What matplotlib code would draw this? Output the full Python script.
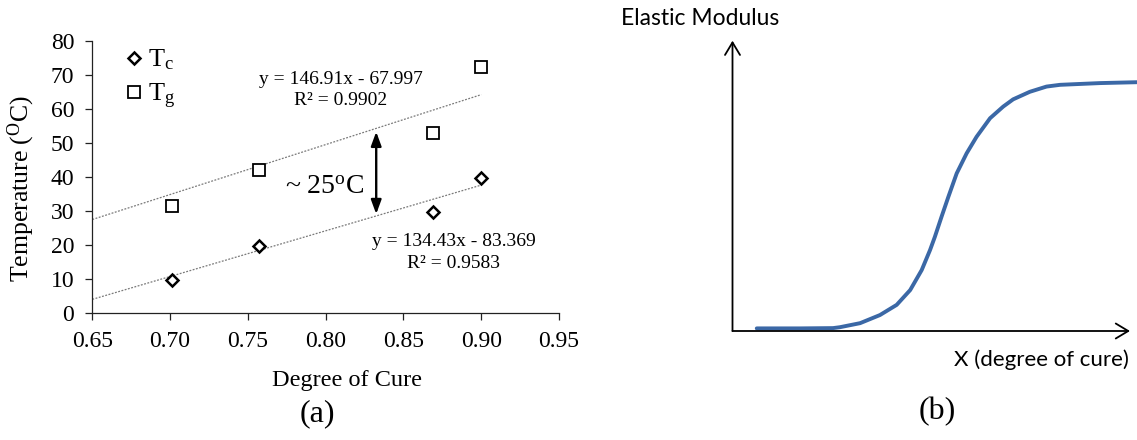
import numpy as np
import matplotlib
matplotlib.use("Agg")
import matplotlib.pyplot as plt

plt.rcParams["font.family"] = ["Liberation Serif", "DejaVu Serif"]
plt.rcParams["mathtext.fontset"] = "custom"
plt.rcParams["mathtext.rm"] = "Liberation Serif"
plt.rcParams["mathtext.it"] = "Liberation Serif:italic"

# (a) Tc / Tg 随固化度变化
cure = [0.701, 0.757, 0.869, 0.900]
tc = [9.7, 19.6, 29.6, 39.6]
tg = [31.5, 42.1, 52.9, 72.3]

# Excel 趋势线 (斜率, 截距)，画在 0.65 ~ 0.90 之间
fit_tg = (146.91, -67.997)
fit_tc = (134.43, -83.369)
fit_range = [0.65, 0.90]

x_ticks = [0.65, 0.70, 0.75, 0.80, 0.85, 0.90, 0.95]
y_ticks = [0, 10, 20, 30, 40, 50, 60, 70, 80]

# (b) 弹性模量示意曲线（从图上读取，单位归一化到坐标箭头长度）
cure_b = [0.061, 0.170, 0.253, 0.270, 0.321, 0.371, 0.413, 0.447, 0.476, 0.497,
          0.509, 0.526, 0.543, 0.564, 0.589, 0.614, 0.648, 0.681, 0.706, 0.748,
          0.790, 0.824, 0.874, 0.925, 1.017]
modulus_b = [0.009, 0.009, 0.010, 0.013, 0.027, 0.055, 0.090, 0.141, 0.210, 0.279,
             0.324, 0.394, 0.462, 0.543, 0.612, 0.669, 0.733, 0.773, 0.798, 0.824,
             0.842, 0.848, 0.851, 0.854, 0.857]

W, H = 1137, 440
fig = plt.figure(figsize=(W / 100, H / 100), dpi=100)

# ---------- panel (a) ----------
ax = fig.add_axes([92.3 / W, (H - 313) / H, (559 - 92.3) / W, (313 - 41) / H])
for s in ["top", "right"]:
    ax.spines[s].set_visible(False)
for s in ["left", "bottom"]:
    ax.spines[s].set_linewidth(0.9)
    ax.spines[s].set_color("#222222")

fx = np.array(fit_range)
ax.plot(fx, fit_tg[0] * fx + fit_tg[1], color="#7a7a7a", lw=0.9, ls=(0, (1.5, 1.2)))
ax.plot(fx, fit_tc[0] * fx + fit_tc[1], color="#7a7a7a", lw=0.9, ls=(0, (1.5, 1.2)))

ax.plot(cure, tc, ls="none", marker="D", ms=6.3, mfc="white", mec="black", mew=1.8,
        label=r"T$_{\mathrm{c}}$")
ax.plot(cure, tg, ls="none", marker="s", ms=8.3, mfc="white", mec="black", mew=1.3,
        label=r"T$_{\mathrm{g}}$")

ax.set_xlim(0.65, 0.95)
ax.set_ylim(0, 80)
ax.set_xticks(x_ticks)
ax.set_xticklabels([f"{v:.2f}" for v in x_ticks])
ax.set_yticks(y_ticks)
ax.tick_params(axis="both", direction="out", length=5, width=0.9, color="#222222",
               labelsize=17)
ax.tick_params(axis="x", pad=8)
ax.tick_params(axis="y", pad=8)

ax.legend(loc="upper left", bbox_to_anchor=(0.068, 0.975), frameon=False, fontsize=19,
          handlelength=0.75, handletextpad=0.15, labelspacing=0.35, borderpad=0,
          borderaxespad=0)

ax.text(0.8098, 68.6, "y = 146.91x - 67.997", fontsize=14, ha="center", va="center")
ax.text(0.8098, 62.6, "R² = 0.9902", fontsize=14, ha="center", va="center")
ax.text(0.8825, 21.0, "y = 134.43x - 83.369", fontsize=14, ha="center", va="center")
ax.text(0.8825, 14.6, "R² = 0.9583", fontsize=14, ha="center", va="center")

ax.annotate("", xy=(0.8325, 53.3), xytext=(0.8325, 29.1),
            arrowprops=dict(arrowstyle="<|-|>,head_length=0.6,head_width=0.22",
                            lw=1.7, color="black", mutation_scale=14,
                            shrinkA=0, shrinkB=0))
ax.text(0.7996, 37.0, r"~ 25$^{\mathrm{o}}$C", fontsize=20, ha="center", va="center")

fig.text(21.7 / W, 1 - 189 / H, r"Temperature ($^{\mathrm{O}}$C)", rotation=90,
         fontsize=18.5, ha="center", va="center")
fig.text(347.5 / W, 1 - 380 / H, "Degree of Cure", fontsize=17.5, ha="center", va="center")
fig.text(317.5 / W, 1 - 414 / H, "(a)", fontsize=23, ha="center", va="center")

# ---------- panel (b) ----------
ox, oy = 732.5, 331
ax2 = fig.add_axes([ox / W, (H - oy) / H, (W - ox) / W, (oy - 40.7) / H])
ax2.set_xlim(0, (W - ox) / (1130 - ox))
ax2.set_ylim(0, 1)
ax2.axis("off")
ax2.plot(cure_b, modulus_b, color="#3b68a6", lw=2.8, solid_capstyle="round",
         solid_joinstyle="round", zorder=3)
ax2.annotate("", xy=(1, 0), xytext=(0, 0), annotation_clip=False,
             arrowprops=dict(arrowstyle="->,head_length=0.5,head_width=0.3", lw=1.3,
                             color="black", mutation_scale=18, shrinkA=0, shrinkB=0))
ax2.annotate("", xy=(0, 1), xytext=(0, 0), annotation_clip=False,
             arrowprops=dict(arrowstyle="->,head_length=0.5,head_width=0.3", lw=1.3,
                             color="black", mutation_scale=18, shrinkA=0, shrinkB=0))

sans = ["Lato", "DejaVu Sans"]
fig.text(700 / W, 1 - 18.5 / H, "Elastic Modulus", family=sans, fontsize=16.5,
         ha="center", va="center")
fig.text(1041 / W, 1 - 360 / H, "X (degree of cure)", family=sans, fontsize=16,
         ha="center", va="center")
fig.text(937.5 / W, 1 - 412 / H, "(b)", fontsize=23, ha="center", va="center")

fig.savefig("out.png", dpi=100, facecolor="white")
